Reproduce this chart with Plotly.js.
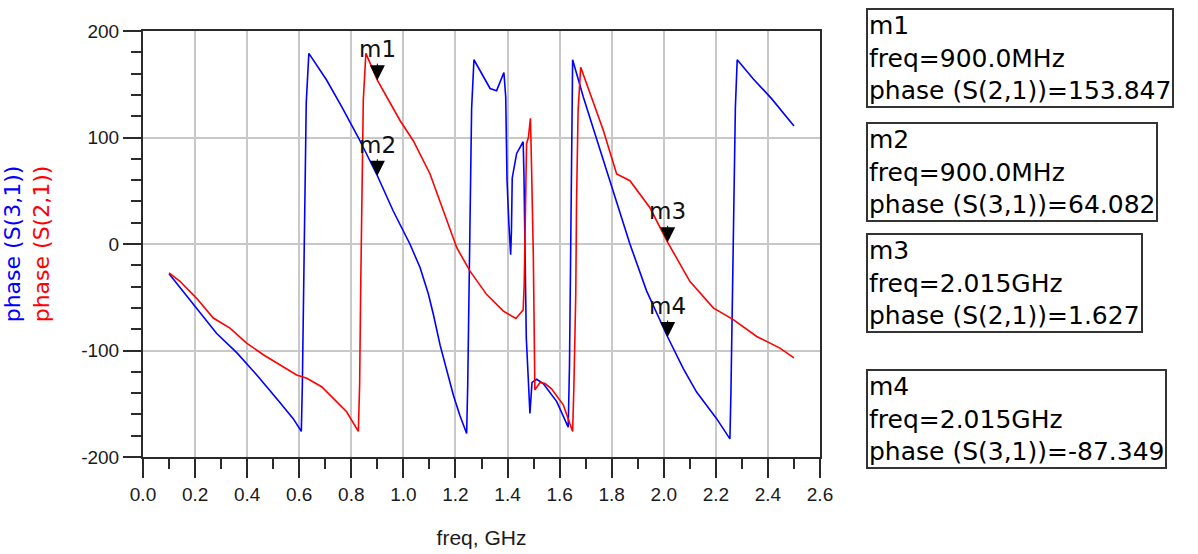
<!DOCTYPE html>
<html>
<head>
<meta charset="utf-8">
<script src="https://cdn.plot.ly/plotly-3.0.1.min.js"></script>
<style>html,body{margin:0;padding:0;background:#fff;}#chart{width:1198px;height:554px;}</style>
</head>
<body>
<div id="chart"></div>
<script>
// ---- data ----
const freqS31 = [0.10, 0.15, 0.206, 0.283, 0.36, 0.437, 0.513, 0.577, 0.608, 0.612, 0.617, 0.623, 0.627, 0.637,
  0.705, 0.763, 0.827, 0.90, 0.961, 1.025, 1.064, 1.096, 1.115, 1.141, 1.166, 1.192, 1.217, 1.243,
  1.247, 1.252, 1.256, 1.262, 1.271, 1.333, 1.358, 1.386, 1.393, 1.398, 1.405, 1.412, 1.415, 1.418,
  1.435, 1.46, 1.463, 1.467, 1.472, 1.486, 1.494, 1.512, 1.537, 1.589, 1.633, 1.638, 1.642, 1.646,
  1.65, 1.691, 1.768, 1.825, 1.87, 1.934, 2.015, 2.075, 2.126, 2.203, 2.254, 2.258, 2.264, 2.27,
  2.275, 2.282, 2.344, 2.414, 2.50];
const phaseS31 = [-28, -43, -60, -84, -102, -123, -145, -164, -176, -132, -42, 43, 133, 179,
  154, 129, 100, 64.082, 31, 0, -22, -47, -66, -95, -117, -142, -161, -178,
  -133, -46, 39, 127, 173, 146, 144, 161, 138, 60, 20, -10, 12, 62,
  85, 96, 66, -20, -88, -159, -130, -127, -131, -148, -172, -113, 0, 116,
  173, 138, 78, 35, 0, -44, -87.349, -117, -139, -164, -183, -139, -49, 39,
  128, 173, 155, 136.5, 110.7];

const freqS21 = [0.10, 0.142, 0.206, 0.27, 0.334, 0.398, 0.462, 0.526, 0.59, 0.629, 0.686, 0.731, 0.782, 0.827,
  0.832, 0.836, 0.842, 0.846, 0.856, 0.90, 0.987, 1.038, 1.102, 1.153, 1.205, 1.256, 1.32, 1.384,
  1.432, 1.46, 1.464, 1.468, 1.473, 1.48, 1.488, 1.492, 1.499, 1.505, 1.525, 1.544, 1.569, 1.614,
  1.65, 1.655, 1.662, 1.665, 1.671, 1.681, 1.717, 1.768, 1.819, 1.87, 1.947, 2.015, 2.10, 2.19,
  2.267, 2.357, 2.446, 2.50];
const phaseS21 = [-27, -35, -51, -69.5, -79, -93, -104, -113.5, -123, -126, -134, -145, -157.5, -176,
  -132, -43, 42, 135, 179, 153.847, 116, 97, 66, 31, -3.5, -25.5, -47.5, -63,
  -70, -62, -38, 20, 94, 100, 118, 75, -10, -137, -130, -131, -136, -151,
  -176, -132, -47.5, 39, 125.5, 166, 141, 106.6, 65.8, 59.4, 34, 1.627, -35, -60,
  -71, -86.8, -97.8, -107];

const seriesNames = ['phase (S(3,1))', 'phase (S(2,1))'];

const markerNames = ['m1', 'm2', 'm3', 'm4'];
const markerFreqGHz = [0.9, 0.9, 2.015, 2.015];
const markerFreqText = ['900.0MHz', '900.0MHz', '2.015GHz', '2.015GHz'];
const markerParam = ['S(2,1)', 'S(3,1)', 'S(2,1)', 'S(3,1)'];
const markerPhase = [153.847, 64.082, 1.627, -87.349];
const markerPhaseText = ['153.847', '64.082', '1.627', '-87.349'];

const yTickVals = [-200, -100, 0, 100, 200];
const yTickText = ['-200', '-100', '0', '100', '200'];

// ---- layout helpers (pixel geometry) ----
const W = 1198, H = 554;
const M = {l: 143, r: 378, t: 31, b: 97};
const plotW = W - M.l - M.r, plotH = H - M.t - M.b;
const boxLeftPx = 866;
const boxTopPx = [8, 122, 233, 369];

const BLUE = '#0000ff', RED = '#ff0000';
const FONT = 'Liberation Sans, Arial, sans-serif';
const WIDEFONT = 'DejaVu Sans, sans-serif';

const traces = [
  {x: freqS31, y: phaseS31, name: seriesNames[0], type: 'scatter', mode: 'lines',
   line: {color: BLUE, width: 1.6}},
  {x: freqS21, y: phaseS21, name: seriesNames[1], type: 'scatter', mode: 'lines',
   line: {color: RED, width: 1.6}}
];

const annotations = [];
markerNames.forEach((nm, i) => {
  annotations.push({
    x: markerFreqGHz[i], y: markerPhase[i], xref: 'x', yref: 'y',
    text: nm, showarrow: true, arrowhead: 2, arrowsize: 3.0, arrowwidth: 1,
    arrowcolor: '#000', ax: 0, ay: -31, standoff: 0,
    font: {family: WIDEFONT, size: 23, color: '#111'}
  });
  annotations.push({
    xref: 'paper', yref: 'paper',
    x: (boxLeftPx - M.l) / plotW, y: (M.t + plotH - boxTopPx[i]) / plotH,
    xanchor: 'left', yanchor: 'top', align: 'left', showarrow: false,
    text: nm + '<br>freq=' + markerFreqText[i] + '<br>phase (' + markerParam[i] + ')=' + markerPhaseText[i],
    font: {family: WIDEFONT, size: 25, color: '#000'},
    bordercolor: '#333', borderwidth: 2, borderpad: 1, bgcolor: '#fff'
  });
});

const layout = {
  width: W, height: H,
  margin: M,
  paper_bgcolor: '#fff', plot_bgcolor: '#fff',
  showlegend: false, hovermode: false,
  font: {family: FONT, size: 19, color: '#1a1a1a'},
  xaxis: {
    range: [0, 2.6], dtick: 0.2, tick0: 0, tickformat: '.1f',
    showgrid: true, gridcolor: '#c8c8c8', gridwidth: 2, zeroline: false,
    showline: true, linecolor: '#2a2a2a', linewidth: 2, mirror: true,
    ticks: 'outside', ticklen: 19, tickwidth: 2, tickcolor: '#2a2a2a',
    tickfont: {family: FONT, size: 19, color: '#1a1a1a'},
    minor: {dtick: 0.1, tick0: 0, ticks: 'outside', ticklen: 10, tickwidth: 2, tickcolor: '#2a2a2a', showgrid: false},
    title: {text: 'freq, GHz', font: {family: FONT, size: 21, color: '#1a1a1a'}, standoff: 27}
  },
  yaxis: {
    range: [-200, 200], tickmode: 'array', tickvals: yTickVals, ticktext: yTickText,
    showgrid: true, gridcolor: '#c8c8c8', gridwidth: 2, zeroline: false,
    showline: true, linecolor: '#2a2a2a', linewidth: 2, mirror: true,
    ticks: 'outside', ticklen: 18, tickwidth: 2, tickcolor: '#2a2a2a',
    tickfont: {family: FONT, size: 19, color: '#1a1a1a'},
    minor: {tickmode: 'linear', dtick: 20, tick0: 0, ticks: 'outside', ticklen: 10, tickwidth: 2, tickcolor: '#2a2a2a', showgrid: false},
    title: {
      text: '<span style="color:' + BLUE + '">' + seriesNames[0] + '</span><br><span style="color:' + RED + '">' + seriesNames[1] + '</span>',
      font: {family: WIDEFONT, size: 22, color: BLUE}, standoff: 27
    }
  },
  annotations: annotations
};

Plotly.newPlot('chart', traces, layout, {displayModeBar: false, staticPlot: true});
</script>
</body>
</html>
